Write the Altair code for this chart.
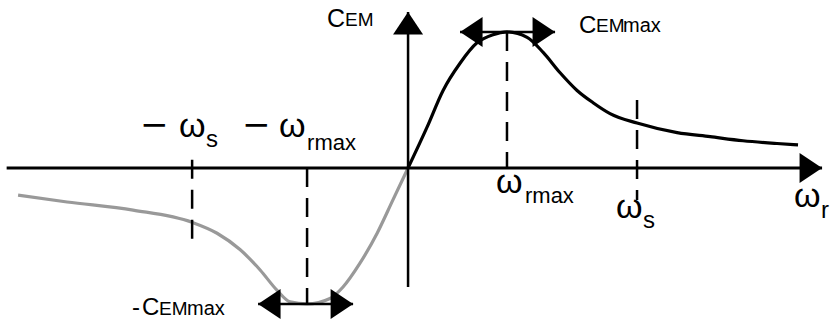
import altair as alt
import pandas as pd

# Torque-speed characteristic of an induction machine.
# Speed in units where the synchronous speed is 100, torque in units of C_EMmax.
W_S = 100.0
W_RMAX = 43.2
NEG_W_S = -94.3
NEG_W_RMAX = -44.1
C_MAX = 1.0

# motor quadrant (black)
motor_speed = [0, 8.3, 15.3, 22.7, 30.1, 37.1, 43.2, 52.0, 59.0, 66.4, 73.8,
               80.8, 88.2, 100.0, 117.5, 131.9, 146.3, 161.1, 170.3]
motor_torque = [0, 0.30, 0.57, 0.77, 0.92, 0.98, 1.0, 0.96, 0.85, 0.70, 0.57,
                0.48, 0.40, 0.33, 0.26, 0.23, 0.20, 0.18, 0.17]

# generator / braking quadrant (grey)
brake_speed = [-170.3, -148.9, -120.1, -94.3, -83.4, -73.4, -64.6, -57.2,
               -51.5, -44.1, -34.1, -28.4, -21.0, -13.5, -6.6, 0]
brake_torque = [-0.20, -0.25, -0.31, -0.40, -0.48, -0.60, -0.75, -0.90,
                -0.985, -1.0, -0.96, -0.875, -0.70, -0.48, -0.235, 0]

# axis extents
AXIS_X_START = -175.3
AXIS_X_END = 180.8
AXIS_Y_START = -0.875
AXIS_Y_END = 1.147

# reference ticks (speed, top, bottom)
tick_speed = [W_RMAX, W_S, NEG_W_S, NEG_W_RMAX]
tick_top = [C_MAX, 0.5, 0.06, 0.0]
tick_bottom = [0.0, -0.235, -0.60, -C_MAX]

# arrow heads (tip speed, tip torque, direction in degrees)
arrow_speed = [AXIS_X_END, 0, 22.7, 64.2, -65.5, -24.0]
arrow_torque = [0, AXIS_Y_END, C_MAX, C_MAX, -C_MAX, -C_MAX]
arrow_angle = [0, 270, 180, 0, 180, 0]

xs = alt.Scale(domain=[-178.2, 184.7], nice=False, zero=False)
ys = alt.Scale(domain=[-1.162, 1.235], nice=False, zero=False)


def X(field):
    return alt.X(field, type="quantitative", scale=xs, axis=None)


def Y(field):
    return alt.Y(field, type="quantitative", scale=ys, axis=None)


motor = pd.DataFrame({"w": motor_speed, "c": motor_torque})
brake = pd.DataFrame({"w": brake_speed, "c": brake_torque})

curve_motor = alt.Chart(motor).mark_line(
    color="black", strokeWidth=3.2, interpolate="monotone"
).encode(x=X("w"), y=Y("c"))

curve_brake = alt.Chart(brake).mark_line(
    color="#999999", strokeWidth=3.2, interpolate="monotone"
).encode(x=X("w"), y=Y("c"))

ticks = pd.DataFrame({"w": tick_speed, "top": tick_top, "bottom": tick_bottom})
dashed = alt.Chart(ticks).mark_rule(
    color="black", strokeWidth=2.5, strokeDash=[19, 11]
).encode(x=X("w"), y=Y("top"), y2="bottom")

h_axis = alt.Chart(pd.DataFrame({"a": [AXIS_X_START], "b": [AXIS_X_END], "y": [0]})).mark_rule(
    color="black", strokeWidth=3
).encode(x=X("a"), x2="b", y=Y("y"))

v_axis = alt.Chart(pd.DataFrame({"x": [0], "a": [AXIS_Y_START], "b": [AXIS_Y_END]})).mark_rule(
    color="black", strokeWidth=2.5
).encode(x=X("x"), y=Y("a"), y2="b")

spans = pd.DataFrame({
    "a": [arrow_speed[2], arrow_speed[4]],
    "b": [arrow_speed[3], arrow_speed[5]],
    "y": [arrow_torque[2], arrow_torque[4]],
})
span_lines = alt.Chart(spans).mark_rule(color="black", strokeWidth=2.5).encode(
    x=X("a"), x2="b", y=Y("y")
)

arrows = pd.DataFrame({"w": arrow_speed, "c": arrow_torque, "ang": arrow_angle})
heads = alt.Chart(arrows).mark_point(
    shape="M0,0L-1.5,-1L-1.5,1Z", size=900, filled=True, color="black", opacity=1
).encode(x=X("w"), y=Y("c"), angle=alt.Angle("ang:Q", scale=None))

SANS = "Liberation Sans"
MATH = "DejaVu Sans"


def label(text, x, y, dx, dy, size, font=SANS):
    return alt.Chart(pd.DataFrame({"x": [x], "y": [y]})).mark_text(
        text=text, align="left", baseline="alphabetic", dx=dx, dy=dy,
        fontSize=size, font=font, color="black"
    ).encode(x=X("x"), y=Y("y"))


labels = [
    # C_EM on the vertical axis
    label("C", 0, AXIS_Y_END, -81, 15, 25),
    label("EM", 0, AXIS_Y_END, -63, 14, 19),
    # C_EMmax at the peak
    label("C", W_RMAX, C_MAX, 72, 1, 24),
    label("EM", W_RMAX, C_MAX, 89, 0, 19),
    label("max", W_RMAX, C_MAX, 116, 0, 20),
    # -C_EMmax at the trough
    label("-", NEG_W_RMAX, -C_MAX, -175, 11, 24),
    label("C", NEG_W_RMAX, -C_MAX, -165, 11, 24),
    label("EM", NEG_W_RMAX, -C_MAX, -148, 11, 19),
    label("max", NEG_W_RMAX, -C_MAX, -120, 11, 20),
    # speed labels
    label("ω", W_RMAX, 0, -11, 25, 34),
    label("rmax", W_RMAX, 0, 18, 35, 22),
    label("ω", W_S, 0, -21, 50, 34),
    label("s", W_S, 0, 6, 60, 24),
    label("ω", AXIS_X_END, 0, -28, 39, 34),
    label("r", AXIS_X_END, 0, -1, 50, 24),
    label("−", NEG_W_S, 0, -52, -32, 34, MATH),
    label("ω", NEG_W_S, 0, -13, -31, 34),
    label("s", NEG_W_S, 0, 14, -21, 24),
    label("−", NEG_W_RMAX, 0, -65, -32, 34, MATH),
    label("ω", NEG_W_RMAX, 0, -28, -31, 34),
    label("rmax", NEG_W_RMAX, 0, 0, -18, 22),
]

chart = alt.layer(
    curve_brake, curve_motor, dashed, h_axis, v_axis, span_lines, heads, *labels
).properties(
    width=831, height=326, padding=0, background="white",
    autosize=alt.AutoSizeParams(type="none"),
).configure_view(stroke=None)

chart.save("out.html", embed_options={"renderer": "svg", "actions": False})
